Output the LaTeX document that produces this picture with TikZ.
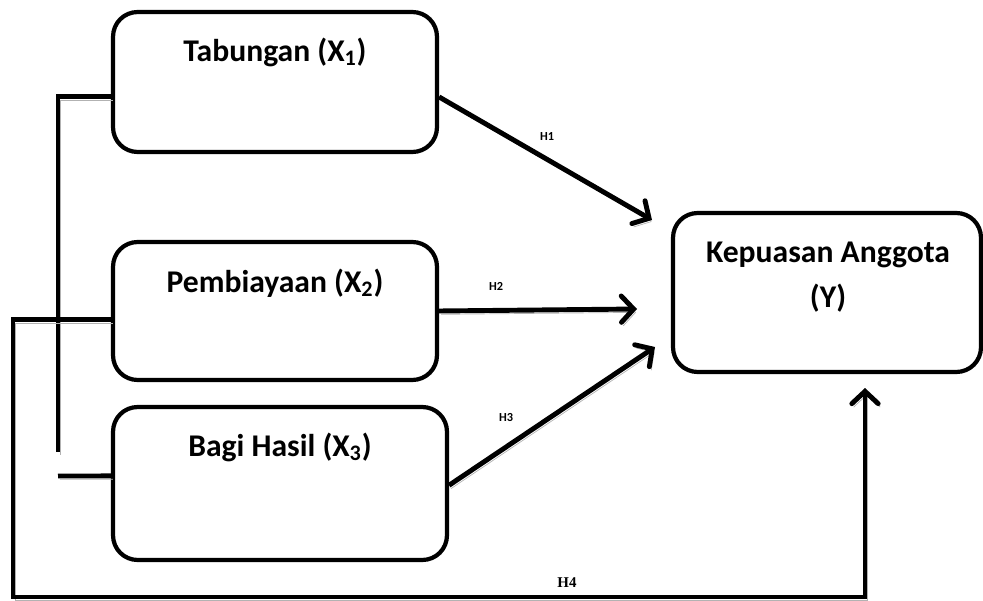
\documentclass[tikz,border=0pt]{standalone}
\usepackage{fontspec}
\setmainfont{Carlito}
\newfontfamily\hfont{Liberation Serif}
\usetikzlibrary{arrows.meta,positioning}

\begin{document}
\begin{tikzpicture}[x=0.02cm,y=-0.02cm,
        box/.style={draw,line width=2.4pt,rounded corners=14pt,inner sep=0pt},
        conn/.style={line width=2.8pt,preaction={draw=gray!60,transform canvas={shift={(1.1pt,-1.9pt)}}}},
        arr/.style={conn,-{Straight Barb[length=7pt,width=15pt,line width=2.8pt,line cap=round]}},
        lbl/.style={font=\bfseries\fontsize{18}{25.5}\selectfont,align=center},
        hyp/.style={font=\bfseries\fontsize{7}{8}\selectfont}]
        \useasboundingbox (0,0) rectangle (983,601);
        % kotak variabel
        \node[box,minimum width=6.48cm,minimum height=2.8cm] (x1) at (275,82) {};
        \node[box,minimum width=6.48cm,minimum height=2.76cm] (x2) at (275,311) {};
        \node[box,minimum width=6.68cm,minimum height=3.06cm] (x3) at (280,483.5) {};
        \node[box,minimum width=6.16cm,minimum height=3.18cm] (y) at (827,292.5) {};
        \node[lbl] (t1) at (275,52) {Tabungan (X\textsubscript{1})};
        \node[lbl] (t2) at (275,283) {Pembiayaan (X\textsubscript{2})};
        \node[lbl] (t3) at (280,447) {Bagi Hasil (X\textsubscript{3})};
        \node[lbl] (ty) at (828,277) {Kepuasan Anggota\\(Y)};
        % titik bantu
        \coordinate (br) at (58,452);
        \coordinate (b3) at (58,476);
        \coordinate (h1e) at (652,220);
        \coordinate (h2e) at (637,309);
        \coordinate (h3e) at (655,347);
        \coordinate (h4a) at (13,597);
        \coordinate (h4e) at (865,388);
        % garis
        \draw[conn] ([yshift=-8.5pt]x1.west) -| (br);
        \draw[conn] ([yshift=4.3pt]x3.west) -- (b3);
        \draw[arr] ([yshift=-8.5pt]x1.east) -- (h1e);
        \draw[arr] (x2.east) -- (h2e);
        \draw[arr] ([yshift=-1pt]x3.east) -- (h3e);
        \draw[arr,miter limit=4] ([yshift=-5pt]x2.west) -| (h4a) -| (h4e);
        % label hipotesis
        \node[hyp] (l1) at (547,137) {H1};
        \node[hyp] (l2) at (496,286) {H2};
        \node[hyp] (l3) at (506,418) {H3};
        \node[hyp,font=\hfont\bfseries\fontsize{8.5}{9}\selectfont] (l4) at (567,583) {H4};
\end{tikzpicture}
\end{document}
